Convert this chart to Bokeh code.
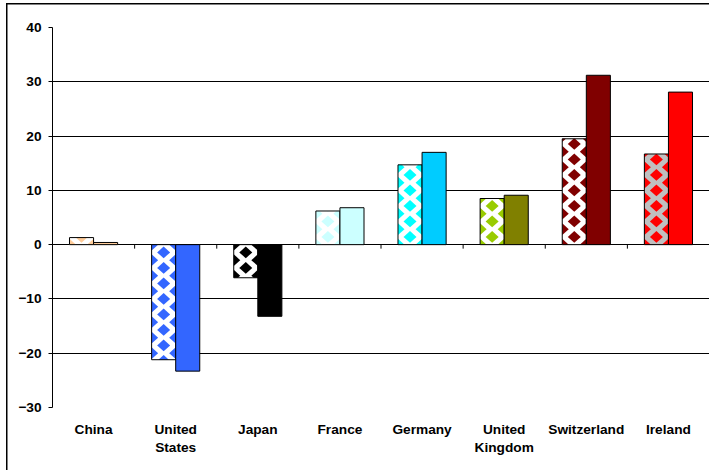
import numpy as np
from bokeh.plotting import figure
from bokeh.models import ColumnDataSource, Range1d, FixedTicker
from bokeh.embed import file_html
from bokeh.resources import INLINE

# Data
countries = ["China", "United\nStates", "Japan", "France", "Germany",
             "United\nKingdom", "Switzerland", "Ireland"]
first_values = [1.3, -21.2, -6.1, 6.2, 14.7, 8.5, 19.5, 16.7]
second_values = [0.4, -23.3, -13.2, 6.8, 17.0, 9.1, 31.2, 28.1]
pattern_colors = ["#FFCC99", "#3366FF", "#000000", "#CCFFFF", "#00FFFF",
                  "#99CC00", "#800000", "#FF0000"]
pattern_backgrounds = ["#FFFFFF"] * 7 + ["#C0C0C0"]
solid_colors = ["#FFCC99", "#3366FF", "#000000", "#CCFFFF", "#00CCFF",
                "#808000", "#800000", "#FF0000"]
y_ticks = [-30, -20, -10, 0, 10, 20, 30, 40]

FONT = "Liberation Sans"
BAR_W = 0.293

# plot geometry (pixels) used to size the diamond fill pattern
WIDTH, HEIGHT = 709, 470
LEFT, RIGHT, TOP, BOTTOM = 52, 0, 27, 63
X0, X1, Y0, Y1 = 0.5, 8.5, -30, 40
px_x = (WIDTH - LEFT - RIGHT) / (X1 - X0)
px_y = (HEIGHT - TOP - BOTTOM) / (Y1 - Y0)

DIA_DX = 6.5 / px_x      # half width of a diamond
DIA_DY = 5.8 / px_y      # half height of a diamond
ROW_STEP = 7.75 / px_y   # vertical distance between staggered rows

positions = np.arange(1, len(countries) + 1)
first_x = positions - BAR_W / 2
second_x = positions + BAR_W / 2


def clip_polygon(pts, xmin, xmax, ymin, ymax):
    """Sutherland-Hodgman clip of a convex polygon to a rectangle."""
    def clip(points, inside, intersect):
        out = []
        n = len(points)
        for i in range(n):
            cur, prev = points[i], points[i - 1]
            if inside(cur):
                if not inside(prev):
                    out.append(intersect(prev, cur))
                out.append(cur)
            elif inside(prev):
                out.append(intersect(prev, cur))
        return out

    def ix(xv):
        return lambda a, b: (xv, a[1] + (b[1] - a[1]) * (xv - a[0]) / (b[0] - a[0]))

    def iy(yv):
        return lambda a, b: (a[0] + (b[0] - a[0]) * (yv - a[1]) / (b[1] - a[1]), yv)

    for inside, inter in ((lambda p: p[0] >= xmin, ix(xmin)),
                          (lambda p: p[0] <= xmax, ix(xmax)),
                          (lambda p: p[1] >= ymin, iy(ymin)),
                          (lambda p: p[1] <= ymax, iy(ymax))):
        if not pts:
            break
        pts = clip(pts, inside, inter)
    return pts


# diamond fill for the patterned bars
dia_xs, dia_ys, dia_colors = [], [], []
for cx_bar, val, col in zip(first_x, first_values, pattern_colors):
    left, right = cx_bar - BAR_W / 2, cx_bar + BAR_W / 2
    lo, hi = min(0, val), max(0, val)
    sign = 1 if val >= 0 else -1
    k = 0
    while k * ROW_STEP - DIA_DY <= abs(val):
        cy = sign * k * ROW_STEP
        centers = [cx_bar] if k % 2 else [left, right]
        for cx in centers:
            poly = [(cx - DIA_DX, cy), (cx, cy - DIA_DY), (cx + DIA_DX, cy), (cx, cy + DIA_DY)]
            clipped = clip_polygon(poly, left, right, lo, hi)
            if len(clipped) >= 3:
                dia_xs.append([p[0] for p in clipped])
                dia_ys.append([p[1] for p in clipped])
                dia_colors.append(col)
        k += 1

first_src = ColumnDataSource(dict(x=first_x, top=first_values, fill=pattern_backgrounds))
second_src = ColumnDataSource(dict(x=second_x, top=second_values, fill=solid_colors))
dia_src = ColumnDataSource(dict(xs=dia_xs, ys=dia_ys, color=dia_colors))

p = figure(width=WIDTH, height=HEIGHT,
           x_range=Range1d(X0, X1), y_range=Range1d(Y0, Y1),
           output_backend="svg", toolbar_location=None,
           min_border_left=LEFT, min_border_right=RIGHT,
           min_border_top=TOP, min_border_bottom=BOTTOM)
p.outline_line_color = None
p.background_fill_color = "white"
p.border_fill_color = None
# outer chart-area frame (top and left edges)
p.styles = {
    "background": ("linear-gradient(#000, #000) 6px 3px / 1.5px 100% no-repeat, "
                   "linear-gradient(#000, #000) 6px 3px / 100% 1.5px no-repeat, #fff"),
}

# grid
p.xgrid.grid_line_color = None
p.ygrid.ticker = FixedTicker(ticks=y_ticks)
p.ygrid.grid_line_color = "black"
p.ygrid.grid_line_width = 1

# y axis
p.yaxis.ticker = FixedTicker(ticks=y_ticks)
p.yaxis.axis_line_color = "black"
p.yaxis.major_tick_line_color = "black"
p.yaxis.major_tick_in = 0
p.yaxis.major_tick_out = 4
p.yaxis.minor_tick_line_color = None
p.yaxis.major_label_standoff = 7
p.yaxis.major_label_text_font = FONT
p.yaxis.major_label_text_font_style = "bold"
p.yaxis.major_label_text_font_size = "13.7px"
p.yaxis.major_label_text_color = "black"

# x axis (labels only; the zero line acts as the category axis)
p.xaxis.ticker = FixedTicker(ticks=list(positions))
p.xaxis.major_label_overrides = {int(k): c for k, c in zip(positions, countries)}
p.xaxis.axis_line_color = None
p.xaxis.major_tick_line_color = None
p.xaxis.minor_tick_line_color = None
p.xaxis.major_label_standoff = 8
p.xaxis.major_label_text_font = FONT
p.xaxis.major_label_text_font_style = "bold"
p.xaxis.major_label_text_font_size = "13.7px"
p.xaxis.major_label_text_color = "black"

# bars
p.vbar(x="x", top="top", bottom=0, width=BAR_W, source=first_src,
       fill_color="fill", line_color=None)
p.patches("xs", "ys", source=dia_src, fill_color="color", line_color=None)
p.vbar(x="x", top="top", bottom=0, width=BAR_W, source=first_src,
       fill_color=None, line_color="black", line_width=1)
p.vbar(x="x", top="top", bottom=0, width=BAR_W, source=second_src,
       fill_color="fill", line_color="black", line_width=1)

# category separator ticks on the zero line
p.ray(x=positions[:-1] + 0.5, y=0, length=4, length_units="screen",
      angle=-np.pi / 2, line_color="black", line_width=1)

open("out.html", "w").write(file_html(p, INLINE))
